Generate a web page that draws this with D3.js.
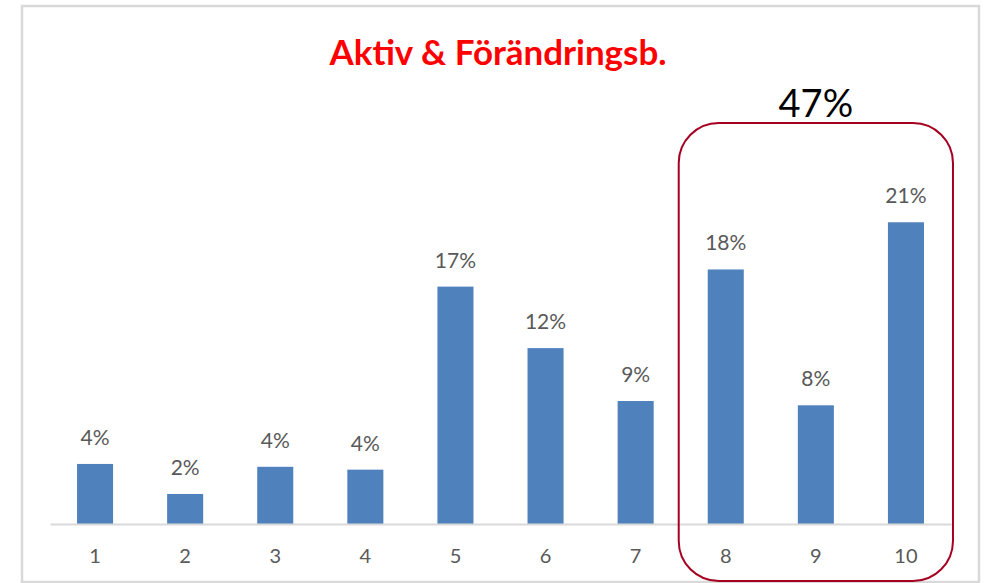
<!DOCTYPE html>
<html>
<head>
<meta charset="utf-8">
<script src="https://cdn.jsdelivr.net/npm/d3@7"></script>
<style>
  body { margin: 0; background: #fff; }
  svg { display: block; }
</style>
</head>
<body>
<div id="chart"></div>
<script>
// data
var categories = ["1", "2", "3", "4", "5", "6", "7", "8", "9", "10"];
var values = [0.042, 0.021, 0.040, 0.038, 0.166, 0.123, 0.086, 0.178, 0.083, 0.211];
var highlighted = ["8", "9", "10"];
var title = "Aktiv & Förändringsb.";

var W = 984, H = 583;
var baseline = 524;

var svg = d3.select("#chart").append("svg")
    .attr("width", W)
    .attr("height", H);

// chart area border
svg.append("rect")
    .attr("x", 22).attr("y", 6)
    .attr("width", 957).attr("height", 576)
    .attr("fill", "#fff")
    .attr("stroke", "#d9d9d9")
    .attr("stroke-width", 2.5);

var x = d3.scaleBand()
    .domain(categories)
    .range([50, 951])
    .paddingInner(0.6)
    .paddingOuter(0.3);

var y = d3.scaleLinear()
    .domain([0, 0.25])
    .range([baseline, baseline - 0.25 * 1430]);

var fmt = d3.format(".0%");

// bars
svg.selectAll(".bar")
    .data(values)
    .enter().append("rect")
    .attr("class", "bar")
    .attr("x", function(d, i) { return x(categories[i]); })
    .attr("width", x.bandwidth())
    .attr("y", function(d) { return y(d); })
    .attr("height", function(d) { return baseline - y(d); })
    .attr("fill", "#4f81bd");

// value labels
svg.selectAll(".vlabel")
    .data(values)
    .enter().append("text")
    .attr("class", "vlabel")
    .attr("x", function(d, i) { return x(categories[i]) + x.bandwidth() / 2; })
    .attr("y", function(d) { return y(d) - 19; })
    .attr("text-anchor", "middle")
    .style("font-family", "Lato, 'Open Sans', sans-serif")
    .style("font-size", "21px")
    .style("fill", "#595959")
    .text(function(d) { return fmt(d); });

// x axis
var xAxis = svg.append("g")
    .attr("transform", "translate(0," + baseline + ")")
    .call(d3.axisBottom(x).tickSize(0).tickPadding(25));
xAxis.select(".domain")
    .attr("stroke", "#d9d9d9")
    .attr("stroke-width", 2);
xAxis.selectAll("text")
    .style("font-family", "Lato, 'Open Sans', sans-serif")
    .style("font-size", "20px")
    .style("fill", "#595959");

// title
svg.append("text")
    .attr("x", 498).attr("y", 65)
    .attr("text-anchor", "middle")
    .attr("textLength", 337)
    .attr("lengthAdjust", "spacingAndGlyphs")
    .style("font-family", "Lato, sans-serif")
    .style("font-weight", "bold")
    .style("font-size", "35px")
    .style("fill", "#ff0000")
    .text(title);

// highlight box around the last three bars
var hx0 = x(highlighted[0]) - 29;
var hx1 = x(highlighted[highlighted.length - 1]) + x.bandwidth() + 29;
svg.append("rect")
    .attr("x", hx0).attr("y", 123)
    .attr("width", hx1 - hx0).attr("height", 458)
    .attr("rx", 40).attr("ry", 40)
    .attr("fill", "none")
    .attr("stroke", "#a50021")
    .attr("stroke-width", 2);

var total = d3.sum(values.filter(function(d, i) { return highlighted.indexOf(categories[i]) >= 0; }));
svg.append("text")
    .attr("x", (hx0 + hx1) / 2).attr("y", 117)
    .attr("text-anchor", "middle")
    .style("font-family", "Lato, sans-serif")
    .style("font-size", "38px")
    .style("fill", "#000")
    .text(fmt(total));
</script>
</body>
</html>
